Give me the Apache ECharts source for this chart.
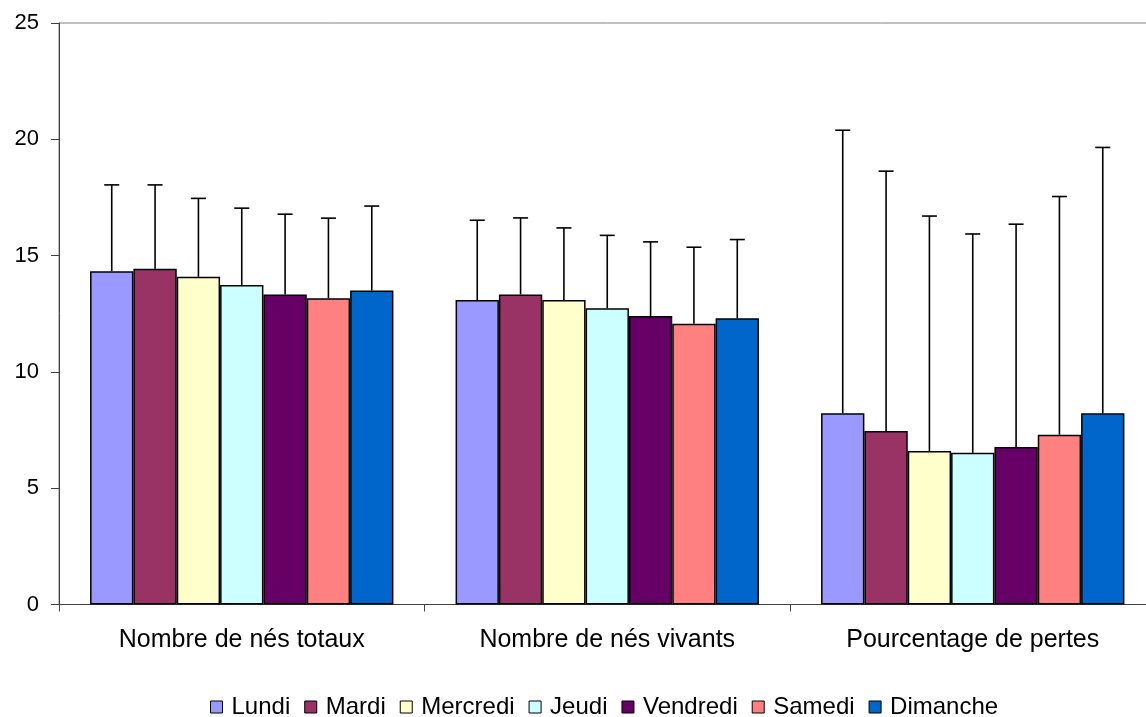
<!DOCTYPE html>
<html>
<head>
<meta charset="utf-8">
<script src="https://cdn.jsdelivr.net/npm/echarts@6/dist/echarts.min.js"></script>
<style>html,body{margin:0;padding:0;background:#fff;overflow:hidden;}#c{width:1160px;height:717px;}</style>
</head>
<body>
<div id="c"></div>
<script>
const categories = ['Nombre de nés totaux', 'Nombre de nés vivants', 'Pourcentage de pertes'];
const days = ['Lundi', 'Mardi', 'Mercredi', 'Jeudi', 'Vendredi', 'Samedi', 'Dimanche'];
const colors = ['#9999FF', '#993366', '#FFFFCC', '#CCFFFF', '#660066', '#FF8080', '#0066CC'];
const yTicks = [0, 5, 10, 15, 20, 25];

const lundiMean = [14.33, 13.09, 8.22];
const mardiMean = [14.43, 13.33, 7.46];
const mercrediMean = [14.09, 13.09, 6.60];
const jeudiMean = [13.74, 12.74, 6.52];
const vendrediMean = [13.33, 12.40, 6.77];
const samediMean = [13.17, 12.07, 7.30];
const dimancheMean = [13.50, 12.31, 8.22];

const lundiUpper = [18.04, 16.52, 20.39];
const mardiUpper = [18.04, 16.62, 18.63];
const mercrediUpper = [17.46, 16.19, 16.70];
const jeudiUpper = [17.04, 15.87, 15.93];
const vendrediUpper = [16.78, 15.59, 16.35];
const samediUpper = [16.61, 15.36, 17.54];
const dimancheUpper = [17.13, 15.69, 19.65];

const means = [lundiMean, mardiMean, mercrediMean, jeudiMean, vendrediMean, samediMean, dimancheMean];
const uppers = [lundiUpper, mardiUpper, mercrediUpper, jeudiUpper, vendrediUpper, samediUpper, dimancheUpper];

const FONT = "'Liberation Sans', Arial, sans-serif";
const CAT_GAP = 0.17;
const nSeries = days.length;

const series = [];
days.forEach((d, i) => {
  series.push({
    name: d,
    type: 'bar',
    data: means[i],
    barGap: '0%',
    barCategoryGap: (CAT_GAP * 100) + '%',
    itemStyle: { color: colors[i], borderColor: '#000', borderWidth: 1.5 },
    emphasis: { disabled: true },
    z: 2
  });
});
days.forEach((d, i) => {
  series.push({
    name: d,
    type: 'custom',
    data: categories.map((c, k) => [k, means[i][k], uppers[i][k]]),
    z: 3,
    silent: true,
    renderItem: function (params, api) {
      const k = api.value(0);
      const catW = api.size([1, 0])[0];
      const barW = catW * (1 - CAT_GAP) / nSeries;
      const base = api.coord([k, api.value(1)]);
      const top = api.coord([k, api.value(2)]);
      const x = base[0] + (i - (nSeries - 1) / 2) * barW;
      const cap = 7.5;
      const st = { stroke: '#000', lineWidth: 1.6 };
      return {
        type: 'group',
        children: [
          { type: 'line', shape: { x1: x, y1: base[1], x2: x, y2: top[1] }, style: st },
          { type: 'line', shape: { x1: x - cap, y1: top[1], x2: x + cap, y2: top[1] }, style: st }
        ]
      };
    }
  });
});

const chart = echarts.init(document.getElementById('c'), null, { renderer: 'canvas' });
chart.setOption({
  animation: false,
  backgroundColor: '#fff',
  textStyle: { fontFamily: FONT },
  grid: { left: 59, right: 4.5, top: 23, bottom: 112.5, show: true, borderColor: '#808080', borderWidth: 1, backgroundColor: 'transparent' },
  legend: {
    data: days,
    left: 205,
    bottom: -7,
    icon: 'rect',
    itemWidth: 12,
    itemHeight: 12,
    itemGap: 14,
    itemStyle: { borderColor: '#000', borderWidth: 1 },
    textStyle: { fontFamily: FONT, fontSize: 24, color: '#000', padding: [0, 0, 0, 4] }
  },
  xAxis: {
    type: 'category',
    data: categories,
    axisLine: { lineStyle: { color: '#404040', width: 1 } },
    axisTick: { show: true, length: 7, alignWithLabel: false, lineStyle: { color: '#404040' } },
    axisLabel: { fontFamily: FONT, fontSize: 25, color: '#000', margin: 23 },
    splitLine: { show: false }
  },
  yAxis: {
    type: 'value',
    min: yTicks[0],
    max: yTicks[yTicks.length - 1],
    interval: 5,
    axisLine: { show: true, lineStyle: { color: '#404040', width: 1 } },
    axisTick: { show: true, length: 8, lineStyle: { color: '#404040' } },
    axisLabel: { fontFamily: FONT, fontSize: 22, color: '#000', margin: 20 },
    splitLine: { show: false }
  },
  series: series
});
</script>
</body>
</html>
